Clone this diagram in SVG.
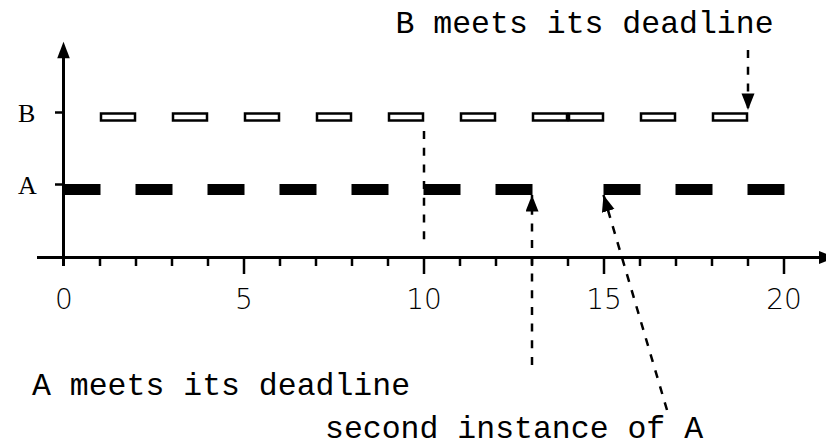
<svg xmlns="http://www.w3.org/2000/svg" width="826" height="446" viewBox="0 0 826 446">
  <defs>
    <style>
      .axis { stroke: #000; stroke-width: 3; fill: none; }
      .tick { stroke: #000; stroke-width: 2.5; fill: none; }
      .bbar { fill: #fff; stroke: #000; stroke-width: 2.5; }
      .abar { fill: #000; stroke: none; }
      .dash { stroke: #000; stroke-width: 2.5; fill: none; stroke-dasharray: 8 8.7; }
      .mono { font-family: "Liberation Mono", "Courier New", monospace; font-size: 31.5px; fill: #000; }
      .num { font-family: "DejaVu Sans", sans-serif; font-weight: 200; font-size: 28px; fill: #000; text-anchor: middle; }
      .serif { font-family: "Liberation Serif", "Times New Roman", serif; font-size: 26px; fill: #000; }
    </style>
    <marker id="head" markerUnits="userSpaceOnUse" markerWidth="18" markerHeight="14" refX="16.6" refY="6.5" orient="auto">
      <path d="M0,0 L16.6,6.5 L0,13 Z" fill="#000"/>
    </marker>
  </defs>

  <!-- axes -->
  <g id="axes">
    <line class="axis" x1="63.5" y1="56" x2="63.5" y2="266"/>
    <polygon points="57.2,58.3 63.5,41.7 69.8,58.3" fill="#000"/>
    <line class="axis" x1="37" y1="257.5" x2="822" y2="257.5"/>
    <polygon points="819,251 835.6,257.5 819,264" fill="#000"/>
    <!-- row ticks -->
    <line class="tick" x1="55" y1="112.5" x2="64" y2="112.5"/>
    <line class="tick" x1="55" y1="184.5" x2="64" y2="184.5"/>
    <!-- minor ticks -->
    <g class="tick">
      <line x1="100" y1="257" x2="100" y2="266"/>
      <line x1="136" y1="257" x2="136" y2="266"/>
      <line x1="172" y1="257" x2="172" y2="266"/>
      <line x1="208" y1="257" x2="208" y2="266"/>
      <line x1="280" y1="257" x2="280" y2="266"/>
      <line x1="316" y1="257" x2="316" y2="266"/>
      <line x1="352" y1="257" x2="352" y2="266"/>
      <line x1="388" y1="257" x2="388" y2="266"/>
      <line x1="460" y1="257" x2="460" y2="266"/>
      <line x1="496" y1="257" x2="496" y2="266"/>
      <line x1="532" y1="257" x2="532" y2="266"/>
      <line x1="568" y1="257" x2="568" y2="266"/>
      <line x1="640" y1="257" x2="640" y2="266"/>
      <line x1="676" y1="257" x2="676" y2="266"/>
      <line x1="712" y1="257" x2="712" y2="266"/>
      <line x1="748" y1="257" x2="748" y2="266"/>
    </g>
    <!-- major ticks -->
    <g class="tick">
      <line x1="244" y1="257" x2="244" y2="274"/>
      <line x1="424" y1="257" x2="424" y2="274"/>
      <line x1="604" y1="257" x2="604" y2="274"/>
      <line x1="784" y1="257" x2="784" y2="274"/>
    </g>
    <text class="num" x="64" y="309">0</text>
    <text class="num" x="244" y="309">5</text>
    <text class="num" x="424" y="309">10</text>
    <text class="num" x="604" y="309">15</text>
    <text class="num" x="784" y="309">20</text>
  </g>

  <!-- task B: outlined slots -->
  <g id="taskB">
    <text class="serif" x="18" y="122">B</text>
    <rect class="bbar" x="101" y="113.5" width="34" height="7"/>
    <rect class="bbar" x="173" y="113.5" width="34" height="7"/>
    <rect class="bbar" x="245" y="113.5" width="34" height="7"/>
    <rect class="bbar" x="317" y="113.5" width="34" height="7"/>
    <rect class="bbar" x="389" y="113.5" width="34" height="7"/>
    <rect class="bbar" x="461" y="113.5" width="34" height="7"/>
    <rect class="bbar" x="533" y="113.5" width="34" height="7"/>
    <rect class="bbar" x="569" y="113.5" width="34" height="7"/>
    <rect class="bbar" x="641" y="113.5" width="34" height="7"/>
    <rect class="bbar" x="713" y="113.5" width="34" height="7"/>
  </g>

  <!-- task A: filled slots -->
  <g id="taskA">
    <text class="serif" x="18" y="194">A</text>
    <rect class="abar" x="63.5" y="184" width="37" height="11"/>
    <rect class="abar" x="135.5" y="184" width="37" height="11"/>
    <rect class="abar" x="207.5" y="184" width="37" height="11"/>
    <rect class="abar" x="279.5" y="184" width="37" height="11"/>
    <rect class="abar" x="351.5" y="184" width="37" height="11"/>
    <rect class="abar" x="423.5" y="184" width="37" height="11"/>
    <rect class="abar" x="495.5" y="184" width="37" height="11"/>
    <rect class="abar" x="603.5" y="184" width="37" height="11"/>
    <rect class="abar" x="675.5" y="184" width="37" height="11"/>
    <rect class="abar" x="747.5" y="184" width="37" height="11"/>
  </g>

  <!-- annotations -->
  <g id="connectors">
    <line class="dash" x1="424" y1="131" x2="424" y2="248"/>
    <line class="dash" x1="748" y1="50" x2="748" y2="110" marker-end="url(#head)"/>
    <line class="dash" x1="532" y1="365" x2="532" y2="195" marker-end="url(#head)"/>
    <line class="dash" x1="667" y1="410" x2="603.5" y2="195" marker-end="url(#head)"/>
  </g>

  <g id="labels">
    <text class="mono" x="395.5" y="33">B meets its deadline</text>
    <text class="mono" x="32" y="395">A meets its deadline</text>
    <text class="mono" x="325" y="438">second instance of A</text>
  </g>
</svg>
